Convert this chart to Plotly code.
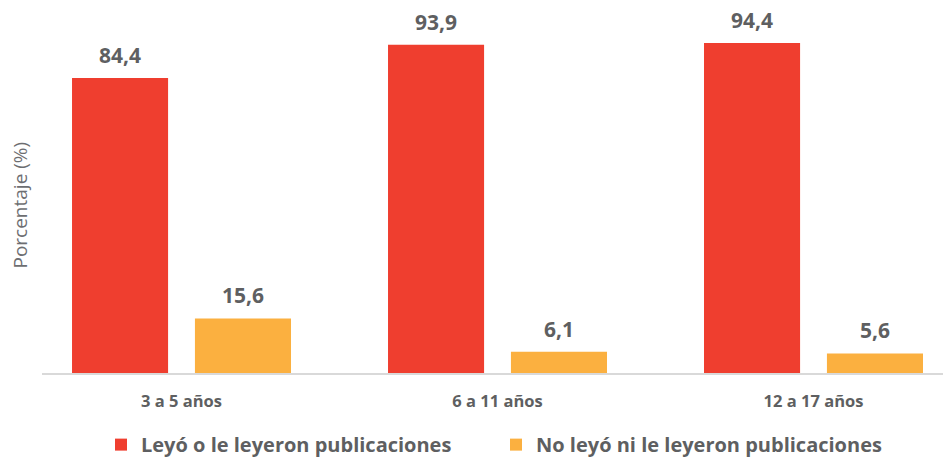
import plotly.graph_objects as go

categories = ["3 a 5 años", "6 a 11 años", "12 a 17 años"]
series_names = ["Leyó o le leyeron publicaciones", "No leyó ni le leyeron publicaciones"]
leyo = [84.4, 93.9, 94.4]
no_leyo = [15.6, 6.1, 5.6]
colors = ["#EF3E2F", "#FBB040"]

TXT = "#5E5F61"
FONT = "Open Sans"

fig = go.Figure()
for name, vals, col, lg in zip(series_names, [leyo, no_leyo], colors, ["legend", "legend2"]):
    fig.add_trace(go.Bar(
        x=categories, y=vals, name=name,
        marker=dict(color=col, line=dict(width=0)),
        hoverinfo="skip", legend=lg,
    ))

# value labels
slot_shift = 61.5
for sign, vals in zip([-1, 1], [leyo, no_leyo]):
    for c, v in zip(categories, vals):
        fig.add_annotation(
            x=c, y=v, xref="x", yref="y",
            text=f"{v:.1f}".replace(".", ","),
            showarrow=False, xshift=sign * slot_shift,
            yanchor="bottom", yshift=7,
            font=dict(family=FONT, size=21, color=TXT, weight="bold"),
        )

fig.add_annotation(
    x=-0.0255, y=0.449, xref="paper", yref="paper",
    text="Porcentaje (%)", textangle=-90, showarrow=False,
    xanchor="center", yanchor="middle",
    font=dict(family=FONT, size=19, color="#6d6e71"),
)

legend_font = dict(family=FONT, size=20, color=TXT, weight="bold")

fig.update_layout(
    width=943, height=458,
    margin=dict(l=42, r=0, t=0, b=85, autoexpand=False),
    paper_bgcolor="white", plot_bgcolor="white",
    barmode="group", bargap=0.222, bargroupgap=0.2185,
    xaxis=dict(
        type="category", range=[-0.4415, 2.4098],
        showline=True, linecolor="#D9D9D9", linewidth=1.5,
        ticks="", showgrid=False, zeroline=False, ticklabelstandoff=12,
        tickfont=dict(family=FONT, size=16.5, color=TXT, weight="bold"),
    ),
    yaxis=dict(
        range=[0, 106.7], visible=False, showgrid=False, zeroline=False,
    ),
    showlegend=True,
    legend=dict(
        orientation="h", x=(101 - 42) / 901, xanchor="left", xref="paper",
        y=-0.192, yanchor="middle",
        font=legend_font, itemclick=False, itemdoubleclick=False,
    ),
    legend2=dict(
        orientation="h", x=(496 - 42) / 901, xanchor="left", xref="paper",
        y=-0.192, yanchor="middle",
        font=legend_font, itemclick=False, itemdoubleclick=False,
    ),
)

fig.write_html(
    "out.html",
    config={"displayModeBar": False},
    post_script="document.body.style.margin='0';document.body.style.overflow='hidden';",
)
